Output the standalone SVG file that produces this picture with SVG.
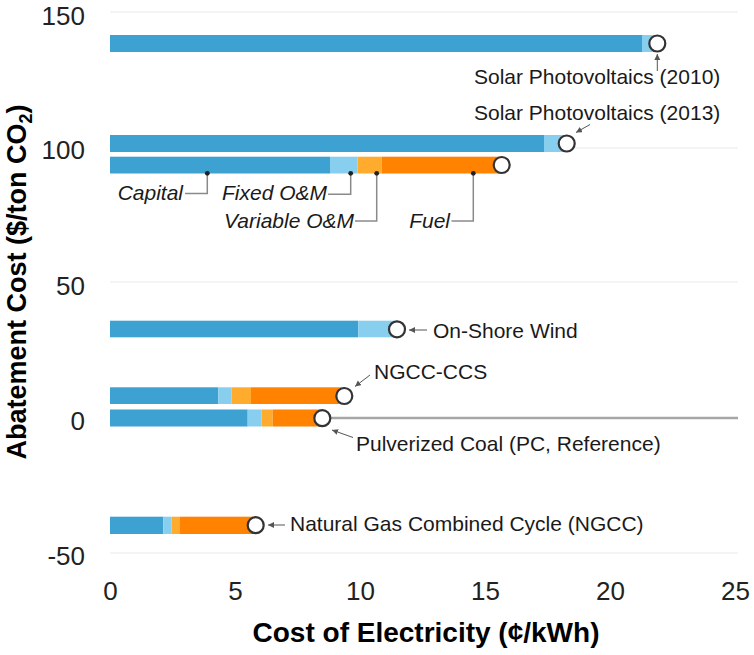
<svg xmlns="http://www.w3.org/2000/svg" width="754" height="655" viewBox="0 0 754 655">
<style>
.bg{fill:#ffffff}
.grid{stroke:#f1f1f1;stroke-width:1.5;fill:none}
.tick{font-family:"Liberation Sans",Arial,sans-serif;font-size:26px;fill:#222}
.title{font-family:"Liberation Sans",Arial,sans-serif;font-size:28px;font-weight:bold;fill:#000}
.ytitle{font-family:"Liberation Sans",Arial,sans-serif;font-size:27px;font-weight:bold;fill:#000}
.lbl{font-family:"Liberation Sans",Arial,sans-serif;font-size:21px;fill:#1a1a1a}
.it{font-family:"Liberation Sans",Arial,sans-serif;font-size:21px;font-style:italic;fill:#1a1a1a}
.cap{fill:#3DA1D1}
.fix{fill:#88CFEF}
.var{fill:#FFAB2E}
.fuel{fill:#FF8200}
.end{fill:#ffffff;stroke:#333;stroke-width:2.2}
.arr{stroke:#555;stroke-width:1;fill:none}
.lead{stroke:#8a8a8a;stroke-width:1.5;fill:none}
.dot{fill:#222}
</style>
<defs>
<marker id="ah" markerUnits="userSpaceOnUse" markerWidth="8" markerHeight="8" refX="6" refY="3" orient="auto">
<path d="M0,0 L6,3 L0,6 Z" fill="#555"/>
</marker>
</defs>
<rect class="bg" x="0" y="0" width="754" height="655"/>
<g id="grid">
<line class="grid" x1="110" y1="12" x2="738" y2="12"/>
<line class="grid" x1="110" y1="148" x2="738" y2="148"/>
<line class="grid" x1="110" y1="282" x2="738" y2="282"/>
<line class="grid" x1="110" y1="553" x2="738" y2="553"/>
</g>
<g id="y-axis">
<text class="tick" x="85" y="25" text-anchor="end">150</text>
<text class="tick" x="85" y="159" text-anchor="end">100</text>
<text class="tick" x="85" y="295" text-anchor="end">50</text>
<text class="tick" x="85" y="430" text-anchor="end">0</text>
<text class="tick" x="85" y="565" text-anchor="end">-50</text>
<text class="ytitle" transform="translate(26,282) rotate(-90)" text-anchor="middle">Abatement Cost ($/ton CO<tspan font-size="18" dy="6">2</tspan><tspan dy="-6">)</tspan></text>
</g>
<g id="x-axis">
<text class="tick" x="110.5" y="600" text-anchor="middle">0</text>
<text class="tick" x="235.5" y="600" text-anchor="middle">5</text>
<text class="tick" x="360.5" y="600" text-anchor="middle">10</text>
<text class="tick" x="485.5" y="600" text-anchor="middle">15</text>
<text class="tick" x="610.5" y="600" text-anchor="middle">20</text>
<text class="tick" x="735.5" y="600" text-anchor="middle">25</text>
<text class="title" x="426" y="642" text-anchor="middle">Cost of Electricity (¢/kWh)</text>
</g>
<g id="connectors">
<line x1="322" y1="418" x2="738" y2="418" stroke="#a6a6a6" stroke-width="2.6"/>
<line class="arr" x1="657.3" y1="71" x2="657.3" y2="54" marker-end="url(#ah)"/>
<line class="arr" x1="590" y1="124.5" x2="576" y2="132.5" marker-end="url(#ah)"/>
<line class="arr" x1="427" y1="330" x2="409" y2="330" marker-end="url(#ah)"/>
<line class="arr" x1="370" y1="375" x2="355" y2="386.5" marker-end="url(#ah)"/>
<line class="arr" x1="353" y1="437.5" x2="332" y2="430" marker-end="url(#ah)"/>
<line class="arr" x1="285" y1="525" x2="268" y2="525" marker-end="url(#ah)"/>
<polyline class="lead" points="207.3,173.3 207.3,193.5 185,193.5"/>
<polyline class="lead" points="350.7,173.3 350.7,194.3 328,194.3"/>
<polyline class="lead" points="376.7,173.3 376.7,221 355,221"/>
<polyline class="lead" points="473.3,173.3 473.3,221 451.5,221"/>
</g>
<g id="solar-2010">
<rect class="cap" x="110" y="35" width="532" height="17"/>
<rect class="fix" x="642" y="35" width="15" height="17"/>
<circle class="end" cx="657.3" cy="43.5" r="8"/>
<text class="lbl" x="474" y="83.5">Solar Photovoltaics (2010)</text>
</g>
<g id="solar-2013">
<rect class="cap" x="110" y="135" width="434" height="17"/>
<rect class="fix" x="544" y="135" width="23" height="17"/>
<circle class="end" cx="566.7" cy="143.5" r="8"/>
<text class="lbl" x="474" y="120">Solar Photovoltaics (2013)</text>
</g>
<g id="breakdown">
<rect class="cap" x="110" y="156.7" width="220" height="16.8"/>
<rect class="fix" x="330" y="156.7" width="27.5" height="16.8"/>
<rect class="var" x="357.5" y="156.7" width="24.2" height="16.8"/>
<rect class="fuel" x="381.7" y="156.7" width="120" height="16.8"/>
<circle class="end" cx="501.7" cy="165" r="8"/>
<circle class="dot" cx="207.3" cy="173.3" r="2.4"/>
<circle class="dot" cx="350.7" cy="173.3" r="2.4"/>
<circle class="dot" cx="376.7" cy="173.3" r="2.4"/>
<circle class="dot" cx="473.3" cy="173.3" r="2.4"/>
<text class="it" x="183" y="200" text-anchor="end">Capital</text>
<text class="it" x="327" y="200" text-anchor="end">Fixed O&amp;M</text>
<text class="it" x="354" y="228" text-anchor="end">Variable O&amp;M</text>
<text class="it" x="450" y="228" text-anchor="end">Fuel</text>
</g>
<g id="wind">
<rect class="cap" x="110" y="320.7" width="248.3" height="16.6"/>
<rect class="fix" x="358.3" y="320.7" width="38.7" height="16.6"/>
<circle class="end" cx="397" cy="329.3" r="8"/>
<text class="lbl" x="433" y="337.5">On-Shore Wind</text>
</g>
<g id="ngcc-ccs">
<rect class="cap" x="110" y="387.3" width="108.3" height="16.7"/>
<rect class="fix" x="218.3" y="387.3" width="13.4" height="16.7"/>
<rect class="var" x="231.7" y="387.3" width="19.3" height="16.7"/>
<rect class="fuel" x="251" y="387.3" width="93.3" height="16.7"/>
<circle class="end" cx="344.3" cy="396" r="8"/>
<text class="lbl" x="374" y="379">NGCC-CCS</text>
</g>
<g id="pc">
<rect class="cap" x="110" y="409.5" width="137.7" height="17"/>
<rect class="fix" x="247.7" y="409.5" width="14" height="17"/>
<rect class="var" x="261.7" y="409.5" width="11" height="17"/>
<rect class="fuel" x="272.7" y="409.5" width="49.6" height="17"/>
<circle class="end" cx="322.3" cy="418.2" r="8"/>
<text class="lbl" x="356" y="451">Pulverized Coal (PC, Reference)</text>
</g>
<g id="ngcc">
<rect class="cap" x="110" y="516.7" width="53.3" height="17.3"/>
<rect class="fix" x="163.3" y="516.7" width="8.4" height="17.3"/>
<rect class="var" x="171.7" y="516.7" width="8.3" height="17.3"/>
<rect class="fuel" x="180" y="516.7" width="75.7" height="17.3"/>
<circle class="end" cx="255.7" cy="525.2" r="8"/>
<text class="lbl" x="290" y="531">Natural Gas Combined Cycle (NGCC)</text>
</g>
</svg>
